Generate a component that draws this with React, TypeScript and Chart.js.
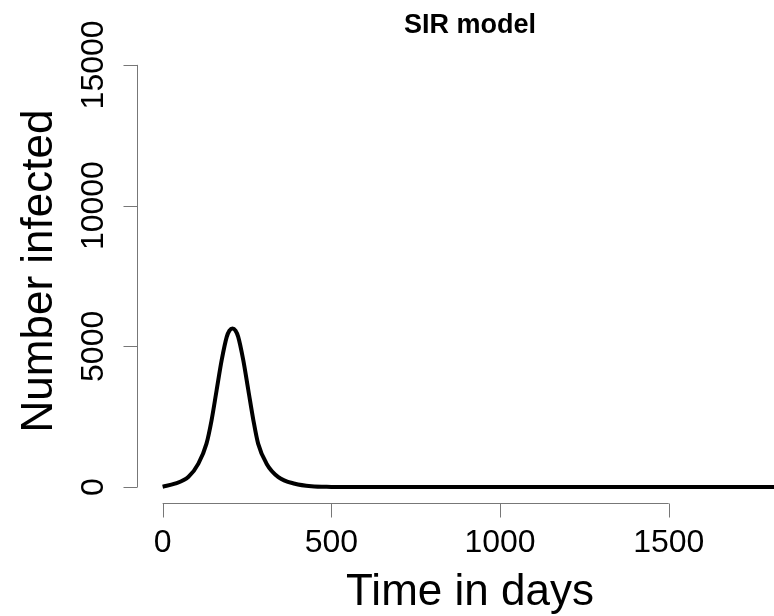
import React, { useEffect, useRef } from "react";
import { Chart, registerables } from "chart.js";

Chart.register(...registerables);

const days = [0, 36, 76, 106, 130, 145, 160, 175, 190, 198, 207, 216, 224, 239, 254, 269, 283, 308, 343, 392, 441, 500, 600, 800, 1000, 1200, 1400, 1600, 1825];
const infected = [15, 120, 356, 833, 1545, 2374, 3441, 4509, 5338, 5560, 5637, 5560, 5338, 4509, 3441, 2374, 1545, 833, 356, 120, 30, 8, 1, 0, 0, 0, 0, 0, 0];
const xTicks = [0, 500, 1000, 1500];
const yTicks = [0, 5000, 10000, 15000];
const titleText = "SIR model";
const xLabel = "Time in days";
const yLabel = "Number infected";

const FONT = '"Liberation Sans", Arial, Helvetica, sans-serif';

const axesPlugin = {
  id: "rAxes",
  afterDraw(chart: any) {
    const ctx = chart.ctx;
    const xs = chart.scales.x;
    const ys = chart.scales.y;
    const area = chart.chartArea;
    ctx.save();
    ctx.strokeStyle = "#777777";
    ctx.lineWidth = 1;
    // x axis
    const xAxisY = Math.round(area.bottom) - 0.5;
    ctx.beginPath();
    ctx.moveTo(xs.getPixelForValue(xTicks[0]), xAxisY);
    ctx.lineTo(xs.getPixelForValue(xTicks[xTicks.length - 1]), xAxisY);
    for (const t of xTicks) {
      const px = Math.round(xs.getPixelForValue(t)) + 0.5;
      ctx.moveTo(px, xAxisY);
      ctx.lineTo(px, xAxisY + 14);
    }
    ctx.stroke();
    // y axis
    const yAxisX = Math.round(area.left) - 0.5;
    ctx.beginPath();
    ctx.moveTo(yAxisX, ys.getPixelForValue(yTicks[0]));
    ctx.lineTo(yAxisX, ys.getPixelForValue(yTicks[yTicks.length - 1]));
    for (const t of yTicks) {
      const py = Math.round(ys.getPixelForValue(t)) + 0.5;
      ctx.moveTo(yAxisX, py);
      ctx.lineTo(yAxisX - 14, py);
    }
    ctx.stroke();

    ctx.fillStyle = "#000000";
    // x tick labels
    ctx.font = `32px ${FONT}`;
    ctx.textAlign = "center";
    ctx.textBaseline = "alphabetic";
    for (const t of xTicks) {
      ctx.fillText(String(t), xs.getPixelForValue(t), 552);
    }
    // y tick labels (rotated)
    for (const t of yTicks) {
      ctx.save();
      ctx.translate(103, ys.getPixelForValue(t));
      ctx.rotate(-Math.PI / 2);
      ctx.fillText(String(t), 0, 0);
      ctx.restore();
    }
    // axis titles
    const midX = 470;
    ctx.font = `44px ${FONT}`;
    ctx.fillText(xLabel, midX, 605);
    ctx.save();
    ctx.translate(52, 271);
    ctx.rotate(-Math.PI / 2);
    ctx.fillText(yLabel, 0, 0);
    ctx.restore();
    // title
    ctx.font = `bold 27px ${FONT}`;
    ctx.fillText(titleText, midX, 33);
    ctx.restore();
  },
};

export default function App() {
  const ref = useRef<HTMLCanvasElement | null>(null);
  useEffect(() => {
    if (!ref.current) return;
    const chart = new Chart(ref.current, {
      type: "line",
      data: {
        datasets: [
          {
            data: days.map((d, i) => ({ x: d, y: infected[i] })),
            borderColor: "#000000",
            borderWidth: 4,
            pointRadius: 0,
            fill: false,
            cubicInterpolationMode: "monotone",
          },
        ],
      },
      options: {
        responsive: false,
        animation: false,
        devicePixelRatio: 1,
        layout: { padding: { left: 138, right: 0, top: 48, bottom: 112 } },
        plugins: { legend: { display: false }, tooltip: { enabled: false }, title: { display: false } },
        scales: {
          x: { type: "linear", display: false, min: -73, max: 1812 },
          y: { type: "linear", display: false, min: -600, max: 15600 },
        },
      },
      plugins: [axesPlugin],
    });
    return () => chart.destroy();
  }, []);
  return (
    <div style={{ position: "fixed", left: 0, top: 0, width: 774, height: 616, background: "#ffffff" }}>
      <canvas ref={ref} width={774} height={616} />
    </div>
  );
}
